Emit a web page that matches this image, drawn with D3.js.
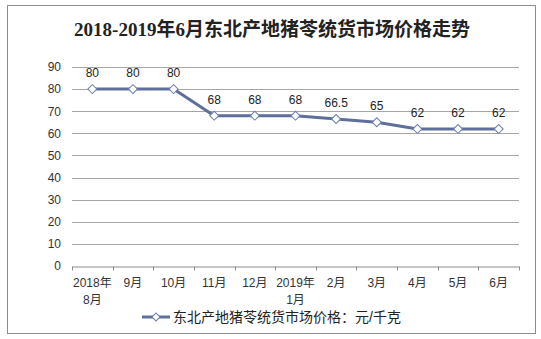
<!DOCTYPE html>
<html><head><meta charset="utf-8">
<script src="https://cdnjs.cloudflare.com/ajax/libs/d3/7.8.5/d3.min.js"></script>
<style>body{margin:0;background:#fff}svg{display:block}</style>
</head><body>
<script>
const categories = [["2018年","8月"],["9月"],["10月"],["11月"],["12月"],["2019年","1月"],["2月"],["3月"],["4月"],["5月"],["6月"]];
const values = [80,80,80,68,68,68,66.5,65,62,62,62];
const valueLabels = ["80","80","80","68","68","68","66.5","65","62","62","62"];
const yTicks = [0,10,20,30,40,50,60,70,80,90];
const title = "2018-2019年6月东北产地猪苓统货市场价格走势";
const seriesName = "东北产地猪苓统货市场价格：元/千克";

const W=541,H=339;
const svg=d3.select("body").append("svg").attr("width",W).attr("height",H);
const font="Arial, 'Liberation Sans', 'Noto Sans CJK SC', sans-serif";
svg.append("rect").attr("x",7.5).attr("y",5.5).attr("width",528).attr("height",328).attr("fill","#fff").attr("stroke","#8c8c8c");
svg.append("text").attr("x",272).attr("y",36).attr("text-anchor","middle")
  .attr("font-family","'Liberation Serif','DejaVu Serif','Noto Sans CJK SC',serif").attr("font-weight","bold").attr("font-size",19).attr("fill","#222").text(title);

const x=d3.scaleBand().domain(d3.range(categories.length)).range([72,519]);
const y=d3.scaleLinear().domain([0,90]).range([266,67]);

const g=svg.append("g");
g.selectAll("line.grid").data(yTicks.filter(d=>d>0)).join("line")
  .attr("x1",72).attr("x2",519).attr("y1",d=>Math.round(y(d))+0.5).attr("y2",d=>Math.round(y(d))+0.5)
  .attr("stroke","#a6a6a6").attr("stroke-width",1);

const yAxis=svg.append("g").attr("transform","translate(72,0)")
  .call(d3.axisLeft(y).tickValues(yTicks).tickSize(0).tickPadding(11));
yAxis.select(".domain").remove();
yAxis.selectAll("text").attr("font-family",font).attr("font-size",12).attr("fill","#333");

const xAxis=svg.append("g").attr("transform",`translate(0,${Math.round(y(0))+0.5})`)
  .call(d3.axisBottom(x).tickSize(0).tickFormat(""));
xAxis.select(".domain").attr("stroke","#8c8c8c");
const bounds=d3.range(categories.length+1).map(i=>72+i*x.step());
xAxis.selectAll("line.tk").data(bounds).join("line").attr("class","tk")
  .attr("x1",d=>Math.round(d)+0.5).attr("x2",d=>Math.round(d)+0.5).attr("y1",0).attr("y2",4).attr("stroke","#8c8c8c");
categories.forEach((c,i)=>{
  const t=svg.append("text").attr("x",x(i)+x.bandwidth()/2).attr("y",287).attr("text-anchor","middle")
   .attr("font-family",font).attr("font-size",12).attr("fill","#333");
  c.forEach((s,j)=>t.append("tspan").attr("x",x(i)+x.bandwidth()/2).attr("dy",j?17:0).text(s));
});

const cx=i=>x(i)+x.bandwidth()/2;
const color="#5f6f9c";
svg.append("path").datum(values).attr("fill","none").attr("stroke",color).attr("stroke-width",3)
  .attr("d",d3.line().x((d,i)=>cx(i)).y(d=>y(d)));
svg.selectAll("path.pt").data(values).join("path").attr("class","pt")
  .attr("d",d3.symbol().type(d3.symbolSquare).size(40)).attr("transform",(d,i)=>`translate(${cx(i)},${y(d)}) rotate(45)`)
  .attr("fill","#fff").attr("stroke","#6b7bb0").attr("stroke-width",1);
svg.selectAll("text.lbl").data(values).join("text").attr("class","lbl")
  .attr("x",(d,i)=>cx(i)).attr("y",d=>y(d)-12).attr("text-anchor","middle")
  .attr("font-family",font).attr("font-size",12).attr("fill","#222").text((d,i)=>valueLabels[i]);

// legend
svg.append("line").attr("x1",142).attr("x2",170).attr("y1",317).attr("y2",317).attr("stroke",color).attr("stroke-width",3);
svg.append("path").attr("d",d3.symbol().type(d3.symbolSquare).size(32)).attr("transform","translate(156,317) rotate(45)")
  .attr("fill","#fff").attr("stroke","#6b7bb0");
svg.append("text").attr("x",173).attr("y",322).attr("font-family",font).attr("font-size",14).attr("fill","#222").text(seriesName);
</script>
</body></html>
